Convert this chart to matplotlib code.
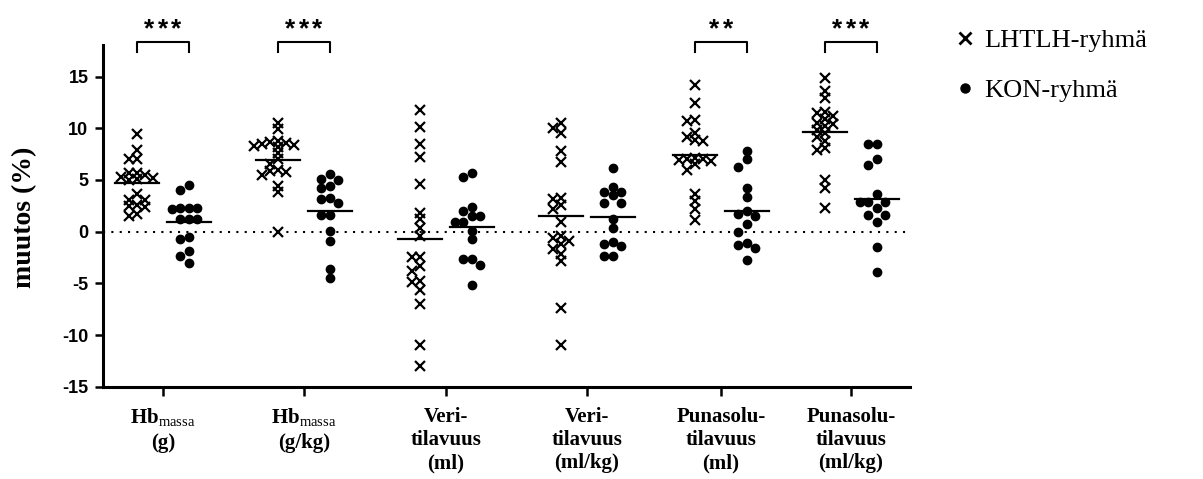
import numpy as np
import matplotlib.pyplot as plt
from matplotlib.lines import Line2D

plt.rcParams['mathtext.fontset'] = 'custom'
plt.rcParams['mathtext.rm'] = 'Liberation Serif'
plt.rcParams['mathtext.bf'] = 'Liberation Serif:bold'
plt.rcParams['axes.unicode_minus'] = False

# --- data (muutos %) ---
categories = ["Hb$_{\\mathrm{massa}}$\n(g)", "Hb$_{\\mathrm{massa}}$\n(g/kg)",
              "Veri-\ntilavuus\n(ml)", "Veri-\ntilavuus\n(ml/kg)",
              "Punasolu-\ntilavuus\n(ml)", "Punasolu-\ntilavuus\n(ml/kg)"]

hb_g_lh = [9.4, 7.9, 7.0, 7.0, 5.7, 5.5, 5.7, 5.0, 5.3, 5.2, 5.1, 3.6, 3.1, 3.1, 2.6, 2.4, 2.5, 1.7, 1.5]
hb_g_kon = [4.5, 4.0, 2.3, 2.3, 2.2, 2.3, 1.2, 1.2, 1.2, -0.5, -0.7, -1.9, -2.4, -3.0]
hb_kg_lh = [10.5, 9.9, 8.4, 8.6, 8.7, 8.3, 8.8, 8.5, 8.2, 7.6, 7.0, 6.5, 5.8, 6.0, 5.9, 5.5, 4.4, 3.8, 0.0]
hb_kg_kon = [5.6, 5.0, 5.1, 4.4, 4.2, 3.2, 3.3, 2.8, 1.6, 1.6, 0.1, -0.9, -3.6, -4.5]
veri_ml_lh = [11.8, 10.1, 8.5, 7.2, 4.6, 1.8, 1.2, 0.4, -0.4, -2.5, -2.5, -3.3, -3.8, -4.8, -4.9, -5.6, -7.0, -11.0, -13.0]
veri_ml_kon = [5.3, 5.7, 2.4, 2.0, 1.5, 1.5, 0.9, 0.9, 0.1, -0.7, -2.6, -2.6, -3.2, -5.2]
veri_kg_lh = [10.0, 10.5, 9.5, 7.8, 6.7, 3.3, 3.2, 2.6, 2.2, 0.9, -0.6, -0.4, -0.9, -1.2, -1.7, -2.2, -2.8, -7.4, -11.0]
veri_kg_kon = [6.2, 4.3, 3.5, 3.8, 3.8, 2.8, 2.8, 1.2, 0.4, -1.4, -1.2, -1.0, -2.4, -2.4]
puna_ml_lh = [14.2, 12.4, 10.7, 10.8, 9.5, 9.2, 8.9, 8.8, 7.1, 7.0, 7.0, 6.9, 6.8, 6.5, 6.0, 3.6, 3.0, 2.2, 1.1]
puna_ml_kon = [7.8, 7.0, 6.3, 4.2, 3.4, 1.5, 1.75, 2.0, 0.7, 0.0, -1.1, -1.3, -1.6, -2.7]
puna_kg_lh = [14.9, 13.6, 12.9, 11.6, 11.5, 11.2, 10.4, 10.2, 10.9, 10.5, 9.8, 9.2, 9.5, 8.8, 8.1, 7.9, 5.0, 4.2, 2.25]
puna_kg_kon = [8.5, 8.5, 7.0, 6.4, 3.6, 2.9, 2.9, 2.9, 2.25, 1.6, 1.6, 0.9, -1.5, -3.9]

lh_groups = [hb_g_lh, hb_kg_lh, veri_ml_lh, veri_kg_lh, puna_ml_lh, puna_kg_lh]
kon_groups = [hb_g_kon, hb_kg_kon, veri_ml_kon, veri_kg_kon, puna_ml_kon, puna_kg_kon]
sig = ["***", "***", "", "", "**", "***"]

# layout
xpos = [0, 1, 2.007, 3.007, 3.957, 4.879]
dx = 0.184          # offset of each group from the category centre
XPX, YPX = 141.0, 10.37   # pixels per data unit


def swarm(vals, step, gap):
    # simple column swarm, a bit like GraphPad's scatter dot plot
    vals = np.asarray(vals, float)
    offs = np.zeros(len(vals))
    placed = []
    for i in np.argsort(-vals):
        y = vals[i] * YPX
        for k in [0, -1, 1, -2, 2, -3, 3]:
            if all(abs(y - py) >= gap for pc, py in placed if pc == k):
                break
        placed.append((k, y))
        offs[i] = k * step / XPX
    return offs


fig = plt.figure(figsize=(12.03, 4.79), dpi=100)
ax = fig.add_axes([0.0856, 0.1927, 0.6709, 0.7134])

for i, (lh, kon) in enumerate(zip(lh_groups, kon_groups)):
    xl = xpos[i] - dx
    xk = xpos[i] + dx
    ax.plot(xl + swarm(lh, 8.0, 6.0), lh, ls='none', marker='x', ms=7.5, mew=1.6, color='k', clip_on=False)
    ax.plot(xk + swarm(kon, 8.5, 7.5), kon, ls='none', marker='o', ms=6, color='k', mec='k', clip_on=False)
    ax.plot([xl - 0.156, xl + 0.156], [np.mean(lh)] * 2, color='k', lw=1.6)
    ax.plot([xk - 0.156, xk + 0.156], [np.mean(kon)] * 2, color='k', lw=1.6)
    if sig[i]:
        ax.plot([xl, xl, xk, xk], [17.35, 18.38, 18.38, 17.35], color='k', lw=1.5, clip_on=False)
        n = len(sig[i])
        for j in range(n):
            ax.text(xpos[i] + (j - (n - 1) / 2) * 0.0957, 18.85, "*", ha='center', va='baseline',
                    fontsize=19, fontweight='bold', family='Liberation Sans', clip_on=False)

ax.axhline(0, color='k', lw=1.5, ls=(0, (1, 3)))

ax.set_xlim(-0.4255, 5.298)
ax.set_ylim(-15, 18.06)
ax.set_yticks([-15, -10, -5, 0, 5, 10, 15])
ax.set_xticks(xpos)
ax.set_xticklabels(categories, family='Liberation Serif', fontweight='bold',
                   fontsize=15, linespacing=1.22)
for lab in ax.get_yticklabels():
    lab.set_family('Liberation Sans')
    lab.set_fontweight('bold')
    lab.set_fontsize(13)
ax.tick_params(axis='y', direction='out', length=5.5, width=1.8, pad=5)
ax.tick_params(axis='x', direction='out', length=6.5, width=1.8, pad=8)

for s in ['top', 'right']:
    ax.spines[s].set_visible(False)
for s in ['left', 'bottom']:
    ax.spines[s].set_linewidth(2.2)

ax.set_ylabel("muutos (%)", family='Liberation Serif', fontweight='bold', fontsize=20)
ax.yaxis.set_label_coords(-0.0818, 0.497)

handles = [Line2D([], [], ls='none', marker='x', ms=8, mew=2, color='k'),
           Line2D([], [], ls='none', marker='o', ms=6.5, color='k')]
fig.legend(handles, ["LHTLH-ryhmä", "KON-ryhmä"], loc='upper left',
           bbox_to_anchor=(0.7734, 0.989), frameon=False, handlelength=0.8,
           handletextpad=0.35, labelspacing=0.99,
           prop={'family': 'Liberation Serif', 'size': 19})

fig.savefig("out.png", dpi=100)
